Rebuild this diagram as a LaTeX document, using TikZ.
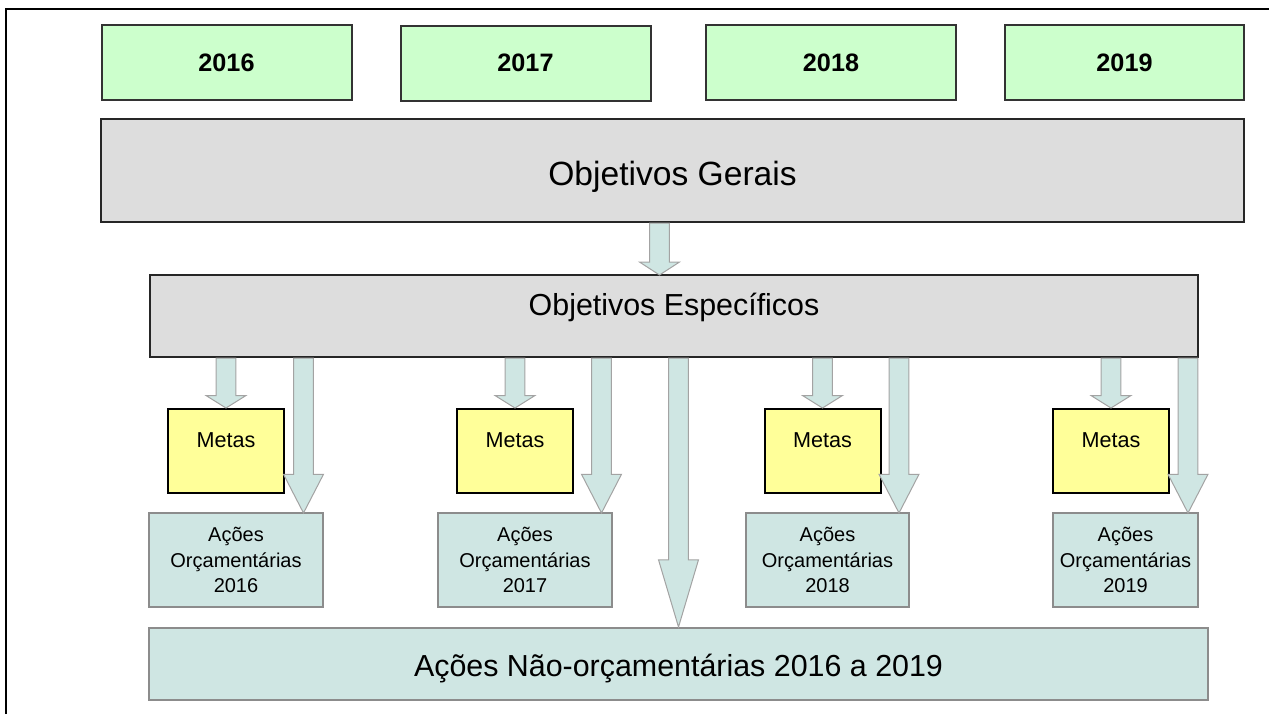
\documentclass[tikz,border=0pt]{standalone}
\usepackage{fontspec}
\setmainfont{Liberation Sans}
\usetikzlibrary{calc}

\definecolor{yeargreen}{HTML}{CCFFCC}
\definecolor{objgray}{HTML}{DDDDDD}
\definecolor{metayellow}{HTML}{FFFF99}
\definecolor{acaoteal}{HTML}{CFE6E3}
\definecolor{edgegray}{HTML}{8C8C8C}

\tikzset{
  yearbox/.style={draw=black!80, line width=1pt, fill=yeargreen,
    minimum width=125pt, minimum height=37.5pt,
    font=\fontsize{12.6}{15}\selectfont\bfseries},
  objbox/.style={draw=black!85, line width=1pt, fill=objgray},
  metabox/.style={draw=black, line width=1pt, fill=metayellow,
    minimum width=58pt, minimum height=42pt, text depth=10.5pt,
    font=\fontsize{10.8}{13}\selectfont},
  acaobox/.style={draw=edgegray, line width=1pt, fill=acaoteal,
    minimum height=47pt, inner xsep=2pt, align=center,
    font=\fontsize{10}{12.8}\selectfont},
  blockarrow/.style={draw=edgegray!80, line width=0.5pt, fill=acaoteal}
}

% seta larga de #1 ate #2
\newcommand{\fatarrow}[2]{%
  \draw[blockarrow] let \p1=#1, \p2=#2, \p3=($#1!0.75!#2$) in
    (\x1-4.9pt,\y1) -- (\x1+4.9pt,\y1) -- (\x1+4.9pt,\y3) -- (\x1+10pt,\y3)
    -- (\x2,\y2) -- (\x1-10pt,\y3) -- (\x1-4.9pt,\y3) -- cycle;}

\begin{document}
\begin{tikzpicture}[x=0.5pt,y=-0.5pt]
  \useasboundingbox (0,0) rectangle (1269,714);
  \draw[line width=1pt] (6,714) -- (6,9) -- (1269,9);

  % anos
  \node[yearbox] (y2016) at (226.5,62.5) {2016};
  \node[yearbox] (y2017) at (525.5,63) {2017};
  \node[yearbox] (y2018) at (831,62.5) {2018};
  \node[yearbox, minimum width=119.5pt] (y2019) at (1124.5,62.5) {2019};

  % objetivos
  \node[objbox, minimum width=571.5pt, minimum height=51.5pt, text height=18pt, text depth=3.5pt,
    font=\fontsize{16.8}{20}\selectfont] (gerais) at (672.5,170.5) {Objetivos Gerais};
  \node[objbox, minimum width=524pt, minimum height=41pt, text height=11pt, text depth=12pt,
    font=\fontsize{15.2}{18}\selectfont] (especificos) at (674,316) {Objetivos Específicos};

  % metas
  \node[metabox] (metas2016) at (226,451) {Metas};
  \node[metabox] (metas2017) at (515,451) {Metas};
  \node[metabox] (metas2018) at (822.5,451) {Metas};
  \node[metabox] (metas2019) at (1111,451) {Metas};

  % acoes
  \node[acaobox, minimum width=87pt] (acoes2016) at (236,560) {Ações\\Orçamentárias\\2016};
  \node[acaobox, minimum width=87pt] (acoes2017) at (525,560) {Ações\\Orçamentárias\\2017};
  \node[acaobox, minimum width=81.5pt] (acoes2018) at (827.5,560) {Ações\\Orçamentárias\\2018};
  \node[acaobox, minimum width=72.5pt] (acoes2019) at (1125.5,560) {Ações\\Orçamentárias\\2019};
  \node[acaobox, minimum width=529.5pt, minimum height=36pt, text height=15.5pt, text depth=3.2pt,
    font=\fontsize{15.2}{18}\selectfont] (naoorc) at (678.5,664) {Ações Não-orçamentárias 2016 a 2019};

  % setas
  \coordinate (tipgerais) at (659.5,275);
  \coordinate (tip2016) at (303.5,513);
  \coordinate (tip2017) at (601.5,513);
  \coordinate (tip2018) at (899,513);
  \coordinate (tip2019) at (1188,513);

  \fatarrow{(gerais.south -| tipgerais)}{(tipgerais)}
  \foreach \ano in {2016,...,2019} {
    \fatarrow{(especificos.south -| metas\ano.north)}{(metas\ano.north)}
    \fatarrow{(especificos.south -| tip\ano)}{(tip\ano)}
  }
  \fatarrow{(especificos.south -| naoorc.north)}{(naoorc.north)}
\end{tikzpicture}
\end{document}
